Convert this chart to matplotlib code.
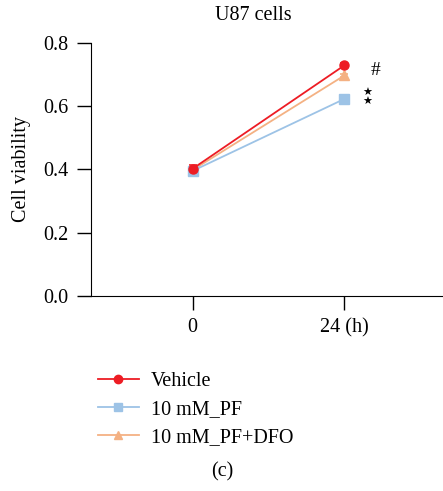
import numpy as np
import matplotlib.pyplot as plt
from matplotlib.lines import Line2D

plt.rcParams['font.family'] = ['Liberation Serif', 'DejaVu Serif']

hours = [0, 24]
vehicle = [0.402, 0.728]
vehicle_err = [0.012, 0.006]
pf = [0.395, 0.622]
pf_err = [0.010, 0.006]
pf_dfo = [0.398, 0.696]
pf_dfo_err = [0.010, 0.006]
labels = ["Vehicle", "10 mM_PF", "10 mM_PF+DFO"]
colors = ["#ED1C24", "#9DC3E6", "#F4B183"]
markers = ["o", "s", "^"]

fig = plt.figure(figsize=(4.43, 4.91), dpi=100)
ax = fig.add_axes([0.2054, 0.3971, 0.7946, 0.5163])

series = [(vehicle, vehicle_err), (pf, pf_err), (pf_dfo, pf_dfo_err)]
# draw back to front so the red line sits on top
for (vals, err), col, mk in reversed(list(zip(series, colors, markers))):
    ax.errorbar(hours, vals, yerr=err, color=col, marker=mk, markersize=6.5,
                linewidth=1.3, capsize=3, elinewidth=1.2, capthick=1.2)

ax.set_xlim(-16.1, 39.6)
ax.set_ylim(0, 0.8)
ax.set_xticks(hours)
ax.set_xticklabels(["0", "24 (h)"])
ax.set_yticks([0, 0.2, 0.4, 0.6, 0.8])
ax.set_yticklabels(["0.0", "0.2", "0.4", "0.6", "0.8"])
ax.spines['top'].set_visible(False)
ax.spines['right'].set_visible(False)
ax.tick_params(direction='out', length=10, width=1, labelsize=14.5, pad=6)
ax.set_ylabel("Cell viability", fontsize=14.5, labelpad=9)

ax.text(29.0, 0.711, "#", fontsize=14, ha='center', va='center')
ax.text(27.6, 0.627, "★\n★", fontsize=8, ha='center', va='center',
        family='DejaVu Sans', linespacing=0.85)

fig.text(0.571, 0.968, "U87 cells", fontsize=14.5, ha='center', va='center')

handles = [Line2D([], [], color=c, marker=m, markersize=6, linewidth=1.3)
           for c, m in zip(colors, markers)]
fig.legend(handles, labels, loc='upper left', bbox_to_anchor=(0.19, 0.272),
           frameon=False, fontsize=14.5, handlelength=2.0, labelspacing=0.45,
           handletextpad=0.6, borderpad=0.2)

fig.text(0.502, 0.038, "(c)", fontsize=14.5, ha='center', va='center')

fig.savefig("out.png", dpi=100)
